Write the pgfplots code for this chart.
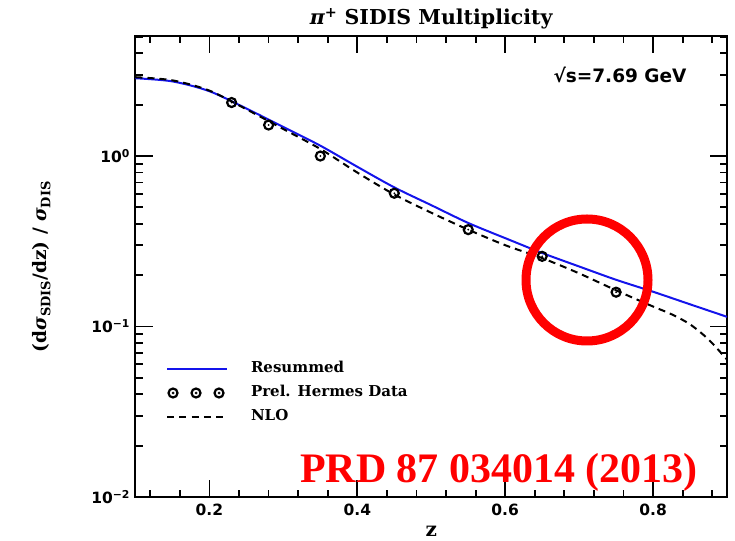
\documentclass[border=0pt]{standalone}
\usepackage{fontspec}
\setmainfont{DejaVu Serif}
\setsansfont{DejaVu Sans}
\newfontfamily\libserif{Liberation Serif}
\usepackage{pgfplots}
\pgfplotsset{compat=1.18}
\pgfdeclareplotmark{circdot}{%
  \pgfpathcircle{\pgfpointorigin}{\pgfplotmarksize}\pgfusepathqstroke
  \pgfpathcircle{\pgfpointorigin}{0.22\pgfplotmarksize}\pgfusepathqfill}
\definecolor{resblue}{RGB}{20,20,235}
\begin{document}
\begin{tikzpicture}
\begin{axis}[
  at={(0pt,0pt)}, anchor=south west,
  scale only axis, width=591.5pt, height=461pt,
  xmin=0.1, xmax=0.9, ymode=log, ymin=0.01, ymax=5.06,
  xtick={0.2,0.4,0.6,0.8}, xticklabels={0.2,0.4,0.6,0.8},
  minor xtick={0.12,0.16,0.24,0.28,0.32,0.36,0.44,0.48,0.52,0.56,0.64,0.68,0.72,0.76,0.84,0.88},
  ytick={0.01,0.1,1}, yticklabels={{10\textsuperscript{−2}},{10\textsuperscript{−1}},{10\textsuperscript{0}}},
  minor ytick={0.02,0.03,0.04,0.05,0.06,0.07,0.08,0.09,0.2,0.3,0.4,0.5,0.6,0.7,0.8,0.9,2,3,4,5},
  xtick pos=both, ytick pos=both, tick align=inside,
  major tick length=17pt, minor tick length=7pt,
  axis line style={line width=2pt},
  tick style={line width=1.8pt, black},
  ticklabel style={font=\sffamily\bfseries\fontsize{15.5}{18}\selectfont},
  xticklabel style={yshift=-3pt},
  yticklabel style={xshift=-2pt},
  legend style={draw=none, fill=none, inner sep=0pt, outer sep=0pt,
    at={(0.0516,0.2256)}, anchor=west,
    font=\bfseries\fontsize{15}{17}\selectfont,
    row sep=10.5pt, column sep=23pt,
    nodes={inner sep=0pt, text height=10pt, text depth=3pt}},
  legend cell align=left,
]
\addplot[resblue, line width=2pt, smooth,
  legend image code/.code={\path[draw=none,fill=none] (0pt,-5pt) rectangle (60pt,5pt); \draw[color=resblue, line width=2pt] (0pt,0pt) -- (60pt,0pt);}]
  coordinates {(0.10,2.86) (0.15,2.74) (0.20,2.40) (0.25,1.90) (0.30,1.48) (0.35,1.15) (0.40,0.865) (0.45,0.655) (0.50,0.515) (0.55,0.405) (0.60,0.33) (0.65,0.27) (0.70,0.225) (0.75,0.188) (0.80,0.160) (0.85,0.135) (0.90,0.114)};
\addlegendentry{Resummed}
\addplot[only marks, mark=circdot, mark size=4.5pt, mark options={line width=2.2pt, black},
  legend image code/.code={\path[draw=none,fill=none] (0pt,-5pt) rectangle (60pt,5pt);
    \foreach \xx in {6pt,29pt,52pt}{\draw[black, line width=2.2pt] (\xx,0pt) circle (4.5pt); \fill[black] (\xx,0pt) circle (1.2pt);}}]
  coordinates {(0.23,2.06) (0.28,1.52) (0.35,1.00) (0.45,0.605) (0.55,0.37) (0.65,0.258) (0.75,0.159)};
\addlegendentry{Prel. Hermes Data}
\addplot[black, line width=2pt, dash pattern=on 7pt off 5pt, smooth,
  legend image code/.code={\path[draw=none,fill=none] (0pt,-5pt) rectangle (60pt,5pt); \draw[black, line width=2pt, dash pattern=on 7pt off 5.25pt] (0pt,0pt) -- (60pt,0pt);}]
  coordinates {(0.10,2.90) (0.15,2.78) (0.20,2.42) (0.25,1.88) (0.30,1.44) (0.35,1.10) (0.40,0.80) (0.45,0.595) (0.50,0.465) (0.55,0.37) (0.60,0.30) (0.65,0.252) (0.70,0.205) (0.75,0.163) (0.80,0.131) (0.825,0.118) (0.85,0.103) (0.875,0.084) (0.90,0.064)};
\addlegendentry{NLO}
\end{axis}
\node[anchor=base, font=\bfseries\fontsize{20.5}{23}\selectfont] at (295.75pt,472pt) {{\itshape π}\textsuperscript{+} SIDIS Multiplicity};
\node[anchor=base, font=\bfseries\fontsize{20}{22}\selectfont] at (295.75pt,-39pt) {z};
\node[rotate=90, anchor=center, font=\bfseries\fontsize{18.5}{20}\selectfont] at (-94pt,230.5pt) {(d{\itshape σ}\textsubscript{SDIS}/dz) / {\itshape σ}\textsubscript{DIS}};
\node[anchor=center, font=\sffamily\bfseries\fontsize{18.5}{20}\selectfont] at (484.5pt,422pt) {√s=7.69 GeV};
\node[anchor=base west, text=red, font=\libserif\bfseries\fontsize{42}{46}\selectfont, inner sep=0pt] at (164.5pt,14pt) {PRD 87 034014 (2013)};
\draw[red, line width=9pt] (451.5pt,217pt) circle (61pt);
\pgfresetboundingbox
\path[use as bounding box] (-135.5pt,-43pt) rectangle (599.5pt,497pt);
\end{tikzpicture}
\end{document}
